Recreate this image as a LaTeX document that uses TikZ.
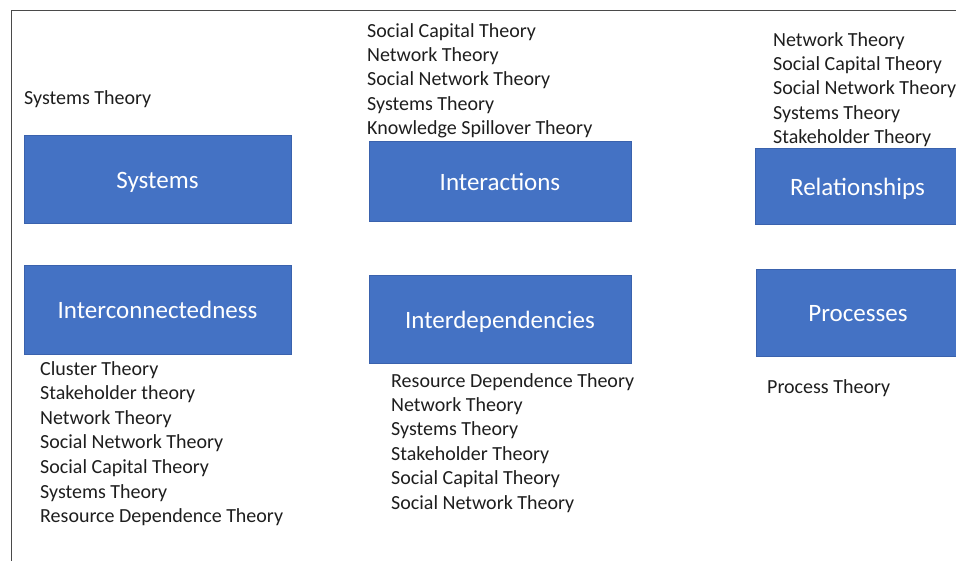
\documentclass[tikz,border=0pt]{standalone}
\usepackage{fontspec}
\setmainfont{Carlito}
\definecolor{boxblue}{HTML}{4472C4}
\definecolor{boxedge}{HTML}{3A62AD}
\definecolor{txt}{HTML}{1E1E1E}
\definecolor{frame}{HTML}{4A4A4A}
\begin{document}
\begin{tikzpicture}[x=1pt,y=-1pt,
  concept/.style={rectangle, fill=boxblue, draw=boxedge, line width=0.6pt,
    text=white, font=\fontsize{25}{30}\selectfont, inner sep=0pt,
    text height=19pt, text depth=1pt},
  item/.style={anchor=base west, inner sep=0pt, text=txt,
    font=\fontsize{20}{24}\selectfont}]
\useasboundingbox (0,0) rectangle (956,560);
\clip (0,0) rectangle (956,560);
% frame
\coordinate (ftl) at (11.5,10.5);
\coordinate (ftr) at (960,10.5);
\coordinate (fbl) at (11.5,565);
\draw[frame, line width=1.6pt] (ftr) -- (ftl) -- (fbl);
% concept boxes
\node[concept, minimum width=267, minimum height=88] (sys) at (157.5,179) {Systems};
\node[concept, minimum width=262, minimum height=80] (inter) at (500,181) {Interactions};
\node[concept, minimum width=205, minimum height=76] (rel) at (857.5,186) {Relationships};
\node[concept, minimum width=267, minimum height=89] (icon) at (157.5,309.5) {Interconnectedness};
\node[concept, minimum width=262, minimum height=88] (idep) at (500,319) {Interdependencies};
\node[concept, minimum width=204, minimum height=87] (proc) at (858,312.5) {Processes};
% theory lists
\node[item] (s1) at (24,104) {Systems Theory};
\foreach \t [count=\i] in {Social Capital Theory, Network Theory, Social Network Theory, Systems Theory, Knowledge Spillover Theory}
  \node[item] (ia\i) at (367,{37+24.4*(\i-1)}) {\t};
\foreach \t [count=\i] in {Network Theory, Social Capital Theory, Social Network Theory, Systems Theory, Stakeholder Theory}
  \node[item] (re\i) at (773,{46+24.4*(\i-1)}) {\t};
\foreach \t [count=\i] in {Cluster Theory, Stakeholder theory, Network Theory, Social Network Theory, Social Capital Theory, Systems Theory, Resource Dependence Theory}
  \node[item] (ic\i) at (40,{375+24.6*(\i-1)}) {\t};
\foreach \t [count=\i] in {Resource Dependence Theory, Network Theory, Systems Theory, Stakeholder Theory, Social Capital Theory, Social Network Theory}
  \node[item] (id\i) at (391,{387+24.4*(\i-1)}) {\t};
\node[item] (p1) at (767,393) {Process Theory};
\end{tikzpicture}
\end{document}
